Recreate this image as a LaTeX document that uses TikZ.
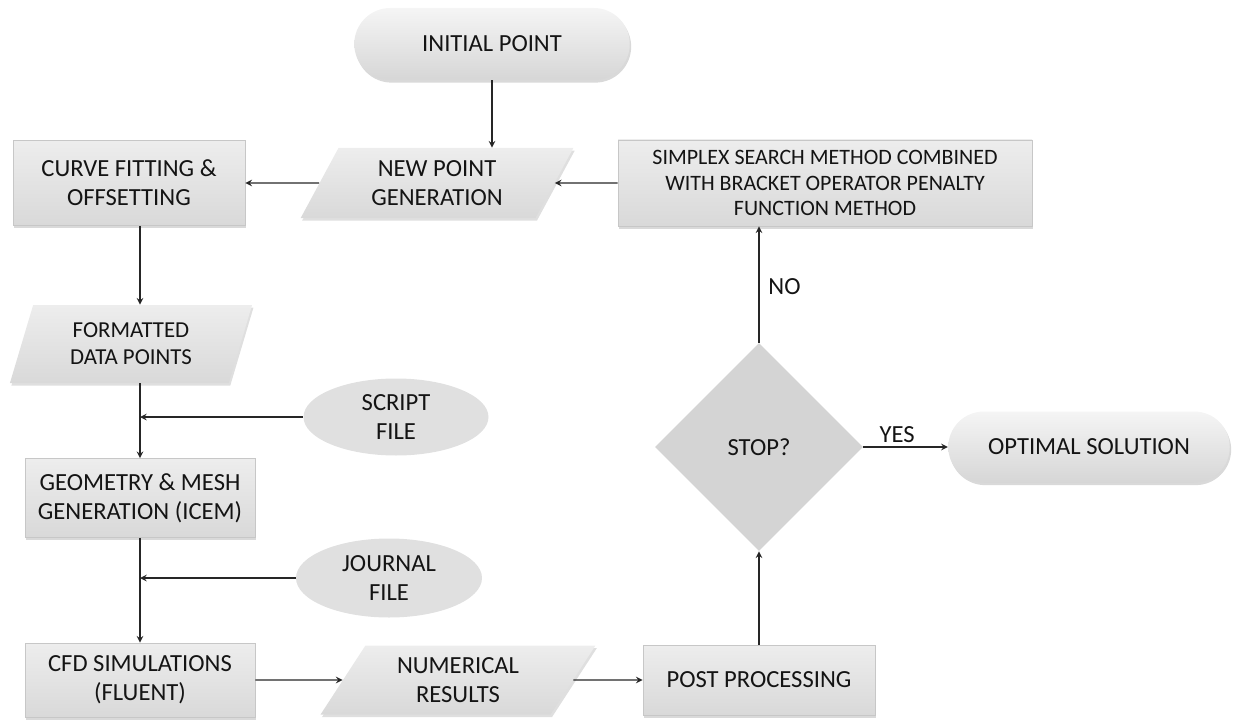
\documentclass[tikz,border=0pt]{standalone}
\usepackage{fontspec}
\setmainfont{Carlito}
\usetikzlibrary{shapes.geometric,shapes.misc,shadows}

\begin{document}
\begin{tikzpicture}[
  font=\fontsize{14}{16.5}\selectfont,
  every node/.style={align=center, text=black!92, inner sep=1pt},
  arr/.style={-stealth, line width=0.7pt, draw=black!85},
  boxnode/.style={rectangle, draw=black!22, line width=0.4pt, top color=black!7, bottom color=black!15,
    drop shadow={shadow xshift=0.8pt, shadow yshift=-1.5pt, opacity=0.3}},
  term/.style={rounded rectangle, top color=black!4, bottom color=black!16,
    drop shadow={shadow xshift=0.8pt, shadow yshift=-1.5pt, opacity=0.3}},
  iobox/.style={trapezium, trapezium stretches=true, top color=black!7, bottom color=black!15,
    drop shadow={shadow xshift=0.8pt, shadow yshift=-1.5pt, opacity=0.25}},
  filenode/.style={ellipse, fill=black!12},
  decide/.style={diamond, fill=black!17, inner sep=0pt}
]
\useasboundingbox (0,0) rectangle (24.66,-14.38);

\node[term, minimum width=5.58cm, minimum height=1.44cm] (init) at (9.84,-0.88) {INITIAL POINT};
\node[iobox, trapezium left angle=62, trapezium right angle=118, minimum width=5.46cm, minimum height=1.40cm] (newpt) at (8.74,-3.66) {NEW POINT\\GENERATION};
\node[boxnode, minimum width=4.64cm, minimum height=1.70cm] (curve) at (2.58,-3.66) {CURVE FITTING \&\\OFFSETTING};
\node[boxnode, minimum width=8.28cm, minimum height=1.72cm, font=\fontsize{12.5}{14.5}\selectfont] (simplex) at (16.50,-3.66) {SIMPLEX SEARCH METHOD COMBINED\\WITH BRACKET OPERATOR PENALTY\\FUNCTION METHOD};
\node[iobox, trapezium left angle=72, trapezium right angle=108, minimum width=4.86cm, minimum height=1.56cm, font=\fontsize{13}{15.5}\selectfont] (fmt) at (2.62,-6.88) {FORMATTED\\DATA POINTS};
\node[filenode, minimum width=3.70cm, minimum height=1.54cm] (script) at (7.92,-8.34) {SCRIPT\\FILE};
\node[boxnode, minimum width=4.60cm, minimum height=1.58cm] (geom) at (2.80,-9.96) {GEOMETRY \& MESH\\GENERATION (ICEM)};
\node[filenode, minimum width=3.72cm, minimum height=1.58cm] (journal) at (7.78,-11.56) {JOURNAL\\FILE};
\node[boxnode, minimum width=4.60cm, minimum height=1.48cm] (cfd) at (2.80,-13.60) {CFD SIMULATIONS\\(FLUENT)};
\node[iobox, trapezium left angle=58, trapezium right angle=122, minimum width=5.50cm, minimum height=1.38cm] (num) at (9.16,-13.60) {NUMERICAL\\RESULTS};
\node[boxnode, minimum width=4.64cm, minimum height=1.40cm] (post) at (15.18,-13.60) {POST PROCESSING};
\node[decide, minimum width=4.16cm, minimum height=4.16cm] (stop) at (15.18,-8.94) {STOP?};
\node[term, minimum width=5.70cm, minimum height=1.42cm] (opt) at (21.78,-8.94) {OPTIMAL SOLUTION};

% upper loop
\draw[arr] (init.south) -- (init.south |- newpt.north);
\draw[arr] (simplex.west) -- (newpt.east);
\draw[arr] (newpt.west) -- (curve.east);

% left column
\draw[arr] (curve.south -| geom) -- (fmt.north -| geom);
\draw[arr] (fmt.south -| geom) -- (geom.north);
\draw[arr] (script.west) -- (script.west -| geom);
\draw[arr] (geom.south) -- (cfd.north);
\draw[arr] (journal.west) -- (journal.west -| geom);

% bottom row and decision
\draw[arr] (cfd.east) -- (num.west);
\draw[arr] (num.east) -- (post.west);
\draw[arr] (post.north) -- (stop.south);
\draw[arr] (stop.north) -- node[right=4pt, pos=0.48] (no) {NO} (stop.north |- simplex.south);
\draw[arr] (stop.east) -- node[above=1pt, pos=0.4] (yes) {YES} (opt.west);
\end{tikzpicture}
\end{document}
